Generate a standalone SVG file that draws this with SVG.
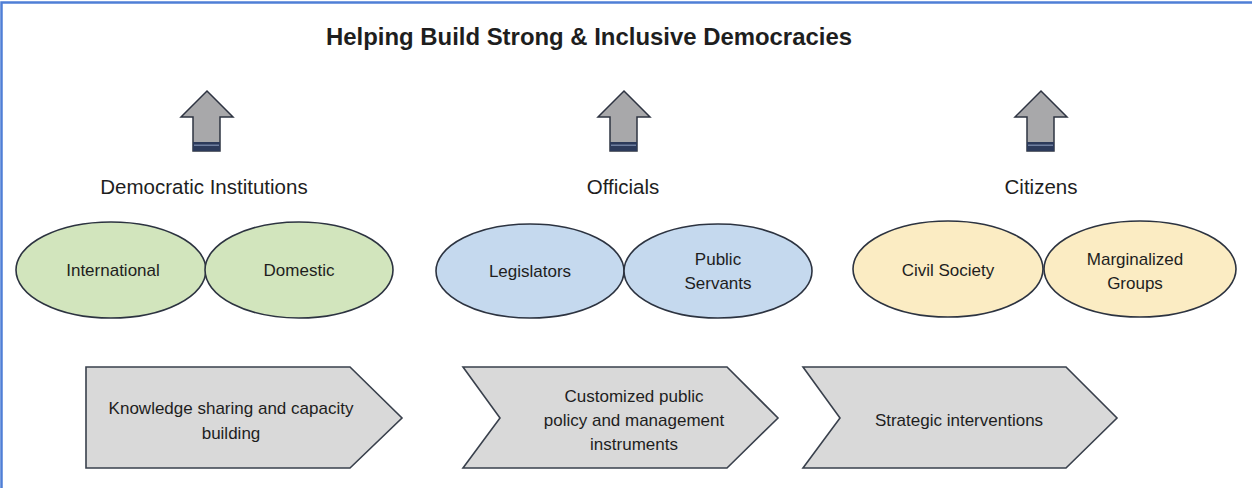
<svg xmlns="http://www.w3.org/2000/svg" width="1252" height="488" viewBox="0 0 1252 488">
<style>
.t{font-family:"Liberation Sans",Arial,sans-serif;fill:#1e1e1e;text-anchor:middle}
.title{font-size:24px;font-weight:bold}
.h{font-size:20.5px}
.n{font-size:17px}
.ell{stroke:#2c3340;stroke-width:1.6}
.g{fill:#d2e5bd}
.b{fill:#c5d9ee}
.y{fill:#fbecc3}
.chev{fill:#d9d9d9;stroke:#39404c;stroke-width:1.6}
.up{fill:#a8a8aa;stroke:#2e3442;stroke-width:1.5}
</style>
<defs>
<g id="uparrow">
<path class="up" d="M0,0 L26,26 L13,26 L13,60 L-14,60 L-14,26 L-26,26 Z"/>
<rect x="-14" y="51" width="27" height="9" fill="#2c3a5a"/>
<rect x="-13" y="53.5" width="25" height="1.5" fill="#6f7f9f"/>
</g>
</defs>
<rect x="1.5" y="2.5" width="1270" height="520" fill="#ffffff" stroke="#4f7fd6" stroke-width="2.5"/>
<g id="title"><text class="t title" x="589" y="45" textLength="526" lengthAdjust="spacingAndGlyphs">Helping Build Strong &amp; Inclusive Democracies</text></g>
<g id="connectors">
<use href="#uparrow" x="207" y="91"/>
<use href="#uparrow" x="624" y="91"/>
<use href="#uparrow" x="1041" y="91"/>
</g>
<g id="hdr-democratic"><text class="t h" x="204" y="194">Democratic Institutions</text></g>
<g id="hdr-officials"><text class="t h" x="623" y="194">Officials</text></g>
<g id="hdr-citizens"><text class="t h" x="1041" y="194">Citizens</text></g>
<g id="international"><ellipse class="ell g" cx="111" cy="270" rx="95" ry="48"/><text class="t n" x="113" y="276">International</text></g>
<g id="domestic"><ellipse class="ell g" cx="299" cy="270" rx="94" ry="48"/><text class="t n" x="299" y="276">Domestic</text></g>
<g id="legislators"><ellipse class="ell b" cx="530" cy="271" rx="94" ry="47"/><text class="t n" x="530" y="277">Legislators</text></g>
<g id="public-servants"><ellipse class="ell b" cx="718" cy="271" rx="94" ry="47"/><text class="t n" x="718" y="265">Public</text><text class="t n" x="718" y="289">Servants</text></g>
<g id="civil-society"><ellipse class="ell y" cx="948" cy="269" rx="95" ry="48"/><text class="t n" x="948" y="276">Civil Society</text></g>
<g id="marginalized"><ellipse class="ell y" cx="1140" cy="269" rx="96" ry="48"/><text class="t n" x="1135" y="265">Marginalized</text><text class="t n" x="1135" y="289">Groups</text></g>
<g id="knowledge"><path class="chev" d="M86,367 L350,367 L402,418 L350,468 L86,468 Z"/><text class="t n" x="231" y="414">Knowledge sharing and capacity</text><text class="t n" x="231" y="439">building</text></g>
<g id="customized"><path class="chev" d="M463,367 L727,367 L778,418 L727,468 L463,468 L500,418 Z"/><text class="t n" x="634" y="402">Customized public</text><text class="t n" x="634" y="426">policy and management</text><text class="t n" x="634" y="450">instruments</text></g>
<g id="strategic"><path class="chev" d="M803,367 L1066,367 L1117,418 L1066,468 L803,468 L840,418 Z"/><text class="t n" x="959" y="426">Strategic interventions</text></g>
</svg>
